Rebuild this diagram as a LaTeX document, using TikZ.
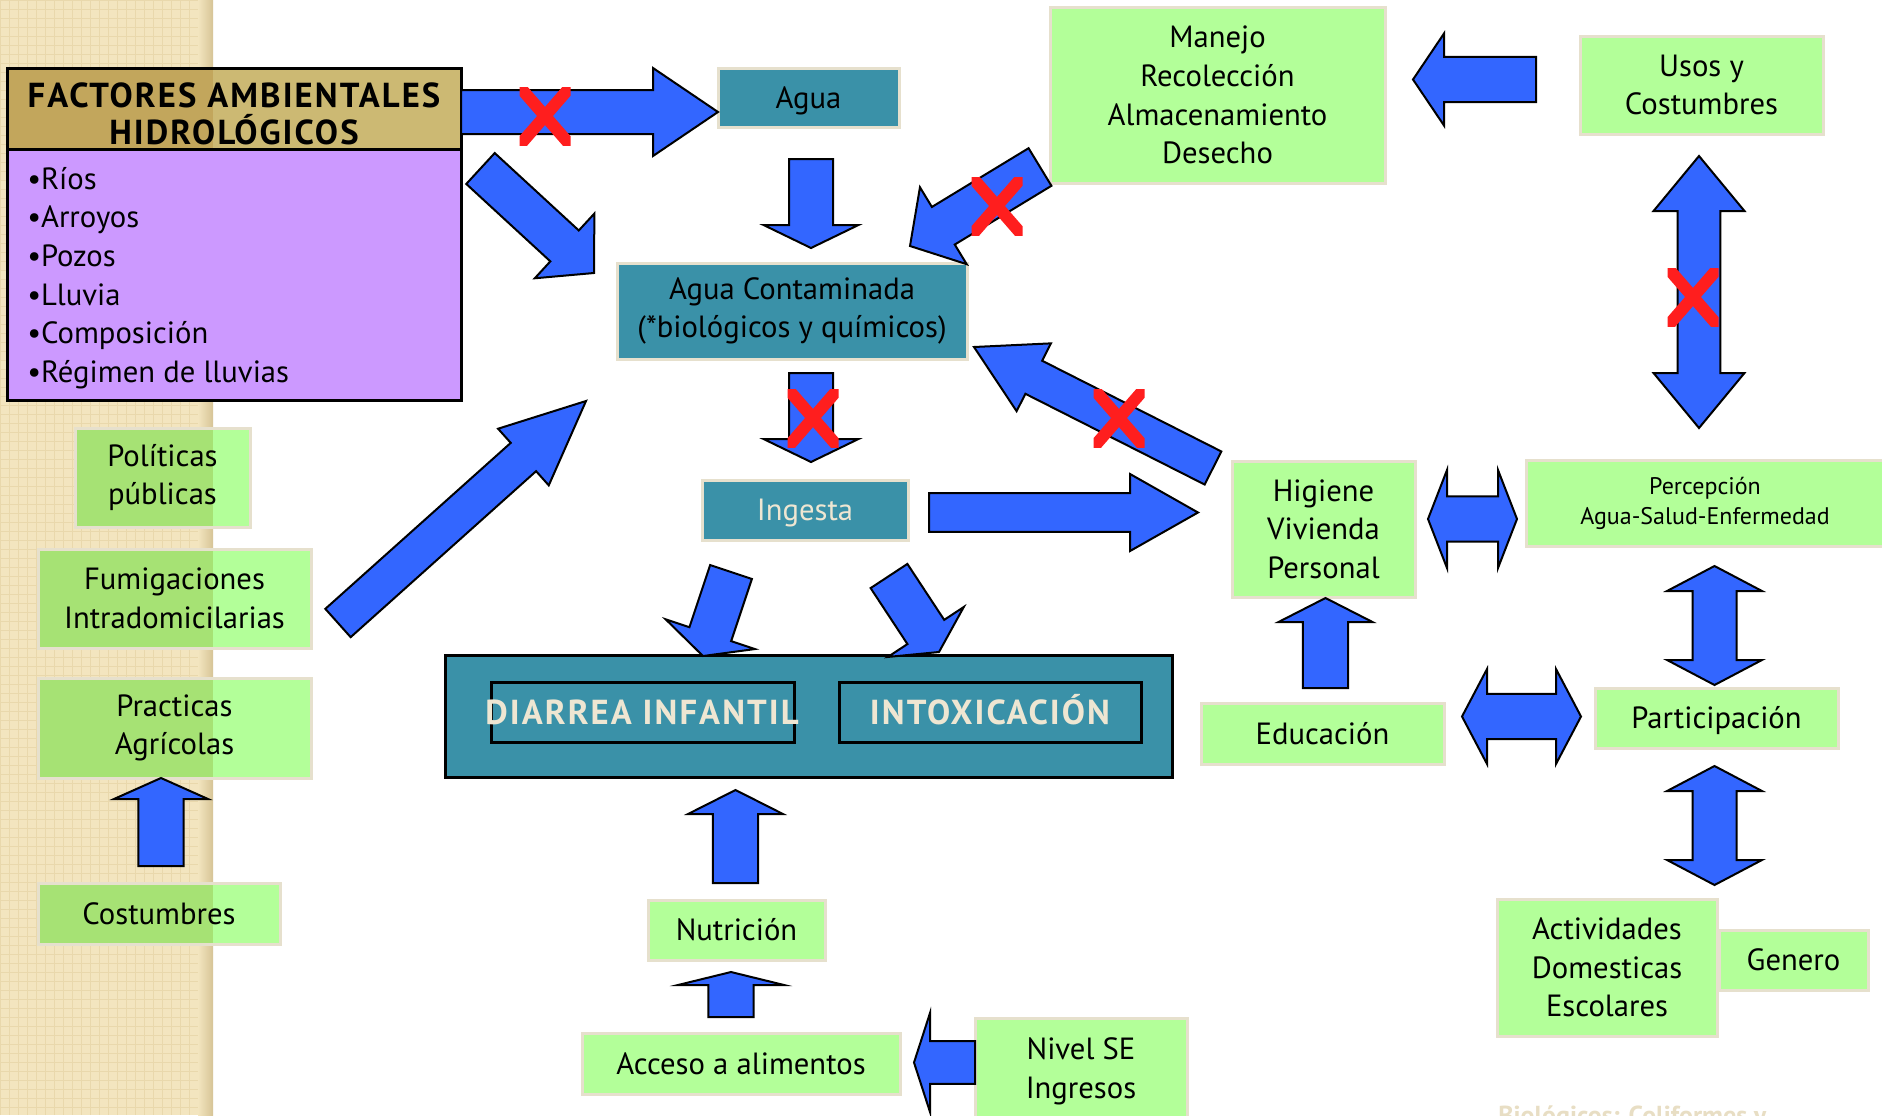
\documentclass[tikz,border=0pt]{standalone}
\usepackage{fontspec}
\setmainfont{PT Sans}
\usetikzlibrary{calc,fit}

\definecolor{arrowblue}{RGB}{51,102,255}
\definecolor{boxteal}{RGB}{58,145,168}
\definecolor{boxgreen}{RGB}{179,255,153}
\definecolor{stripgreen}{RGB}{166,226,116}
\definecolor{boxedge}{RGB}{230,224,205}
\definecolor{listpurple}{RGB}{204,153,255}
\definecolor{titlegold}{RGB}{204,185,115}
\definecolor{stripgold}{RGB}{194,166,92}
\definecolor{stripbg}{RGB}{243,229,191}
\definecolor{stripline}{RGB}{233,216,172}
\definecolor{stripshade}{RGB}{214,196,150}
\definecolor{paletext}{RGB}{238,230,210}
\definecolor{fadedbeige}{RGB}{232,222,196}
\definecolor{crossred}{RGB}{255,30,30}

\newcommand{\mainfs}{\fontsize{23}{29}\selectfont}
\newcommand{\smallfs}{\fontsize{18}{22.5}\selectfont}
\newcommand{\titlefs}{\fontsize{26}{28}\selectfont\addfontfeature{LetterSpace=6}}

\tikzset{
  stripfill/.style={path picture={\fill[#1] (path picture bounding box.north west) rectangle (stripedge |- path picture bounding box.south);}},
  greenbox/.style={fill=boxgreen, draw=boxedge, line width=2.25pt, inner sep=0pt, stripfill=stripgreen},
  tealbox/.style={fill=boxteal, draw=boxedge, line width=2.25pt, inner sep=0pt},
  titlebox/.style={fill=titlegold, draw=black, line width=2.25pt, inner sep=0pt, stripfill=stripgold},
  listbox/.style={fill=listpurple, draw=black, line width=2.25pt, inner sep=0pt},
  dxbox/.style={fill=boxteal, draw=black, line width=2.25pt, inner sep=0pt},
  innerbox/.style={draw=black, line width=2.25pt, inner sep=0pt},
  boxtext/.style={align=center, font=\mainfs, inner sep=0pt},
  listtext/.style={align=left, font=\mainfs, inner sep=0pt},
  titletext/.style={align=center, font=\bfseries\titlefs, inner sep=0pt},
  dxlabel/.style={text=paletext, font=\bfseries\titlefs, inner sep=0pt},
  fainttext/.style={text=fadedbeige, font=\bfseries\fontsize{19.5}{22}\selectfont, inner sep=0pt},
  blockarrow/.style={fill=arrowblue, draw=black, line width=1.5pt, line join=miter},
  crossmark/.style={draw=crossred, line width=9pt}
}

% block arrow: tail, tip, half shaft, half head, head length
\newcommand{\blkarrow}[5]{%
  \coordinate (ba-h) at ($#2!#5!#1$);
  \draw[blockarrow] ($#1!#3!90:#2$) -- ($(ba-h)!#3!-90:#1$) -- ($(ba-h)!#4!-90:#1$) -- #2
    -- ($(ba-h)!#4!90:#1$) -- ($(ba-h)!#3!90:#1$) -- ($#1!#3!-90:#2$) -- cycle;
}
% two headed block arrow: end, end, half shaft, half head, head length
\newcommand{\dblarrow}[5]{%
  \coordinate (da-p) at ($#1!#5!#2$);
  \coordinate (da-q) at ($#2!#5!#1$);
  \draw[blockarrow] #1 -- ($(da-p)!#4!90:#2$) -- ($(da-p)!#3!90:#2$) -- ($(da-q)!#3!-90:#1$)
    -- ($(da-q)!#4!-90:#1$) -- #2 -- ($(da-q)!#4!90:#1$) -- ($(da-q)!#3!90:#1$)
    -- ($(da-p)!#3!-90:#2$) -- ($(da-p)!#4!-90:#2$) -- cycle;
}
% red cross
\newcommand{\redx}[1]{%
  \begin{scope}[shift={#1}]
    \clip (-25.5,-29) rectangle (25.5,29);
    \draw[crossmark] (-40,-46) -- (40,46) (-40,46) -- (40,-46);
  \end{scope}
}

\begin{document}
\begin{tikzpicture}[x=0.75pt,y=0.75pt,yscale=-1,xscale=1]
\useasboundingbox (0,0) rectangle (1882,1115);
\fill[white] (0,0) rectangle (1882,1115);

% Side strip
\fill[stripbg] (0,0) rectangle (213,1115);
\draw[stripline, line width=0.6pt, step=9] (0,0) grid (213,1115);
\shade[left color=stripbg, right color=stripshade] (198,0) rectangle (213,1115);
\coordinate (stripedge) at (213,0);

% Boxes
\node[titlebox, fit={(7,68) (461,149)}] (hdr) {};
\node[listbox, fit={(7,149) (461,400)}] (lst) {};
\node[tealbox, fit={(718,68) (899,127)}] (agua) {};
\node[tealbox, fit={(617,263) (967,359)}] (cont) {};
\node[greenbox, fit={(1050,7) (1385,183)}] (manejo) {};
\node[greenbox, fit={(1580,36) (1823,134)}] (usos) {};
\node[greenbox, fit={(1526,460) (1886,546)}] (percep) {};
\node[greenbox, fit={(1232,461) (1415,597)}] (higiene) {};
\node[tealbox, fit={(702,480) (908,540)}] (ingesta) {};
\node[greenbox, fit={(75,428) (250,527)}] (polit) {};
\node[greenbox, fit={(38,549) (311,648)}] (fumig) {};
\node[greenbox, fit={(38,678) (311,778)}] (pract) {};
\node[greenbox, fit={(38,883) (280,944)}] (costum) {};
\node[dxbox, fit={(445,655) (1172,777)}] (dx) {};
\node[innerbox, fit={(491,682) (794,742)}] (diarrea) {};
\node[innerbox, fit={(839,682) (1141,742)}] (intox) {};
\node[greenbox, fit={(648,900) (825,960)}] (nutri) {};
\node[greenbox, fit={(582,1033) (900,1094)}] (acceso) {};
\node[greenbox, fit={(975,1018) (1187,1125)}] (nivel) {};
\node[greenbox, fit={(1201,703) (1444,764)}] (educ) {};
\node[greenbox, fit={(1595,688) (1838,748)}] (partic) {};
\node[greenbox, fit={(1497,899) (1717,1036)}] (activ) {};
\node[greenbox, fit={(1719,930) (1868,990)}] (genero) {};

% Text Nodes
\node[titletext] (t-hdr) at (234,114) {FACTORES AMBIENTALES\\HIDROLÓGICOS};
\node[listtext, anchor=west] (t-lst) at (27,278) {•Ríos\\•Arroyos\\•Pozos\\•Lluvia\\•Composición\\•Régimen de lluvias};
\node[boxtext] (t-agua) at ($(agua)+(0,3)$) {Agua};
\node[boxtext] (t-cont) at (cont) {Agua Contaminada\\(*biológicos y químicos)};
\node[boxtext] (t-manejo) at (manejo) {Manejo\\Recolección\\Almacenamiento\\Desecho};
\node[boxtext] (t-usos) at (usos) {Usos y\\Costumbres};
\node[boxtext, font=\smallfs] (t-percep) at (1705,503) {Percepción\\Agua-Salud-Enfermedad};
\node[boxtext] (t-higiene) at (higiene) {Higiene\\Vivienda\\Personal};
\node[boxtext, text=paletext] (t-ingesta) at ($(ingesta)+(0,3)$) {Ingesta};
\node[boxtext] (t-polit) at (polit) {Políticas\\públicas};
\node[boxtext] (t-fumig) at (fumig) {Fumigaciones\\Intradomicilarias};
\node[boxtext] (t-pract) at (pract) {Practicas\\Agrícolas};
\node[boxtext] (t-costum) at (costum) {Costumbres};
\node[dxlabel, anchor=base] (t-diarrea) at (642,724) {DIARREA INFANTIL};
\node[dxlabel, anchor=base] (t-intox) at (990,724) {INTOXICACIÓN};
\node[boxtext] (t-nutri) at (nutri) {Nutrición};
\node[boxtext] (t-acceso) at (acceso) {Acceso a alimentos};
\node[boxtext] (t-nivel) at (nivel) {Nivel SE\\Ingresos};
\node[boxtext] (t-educ) at (educ) {Educación};
\node[boxtext] (t-partic) at ($(partic)+(0,3)$) {Participación};
\node[boxtext] (t-activ) at (activ) {Actividades\\Domesticas\\Escolares};
\node[boxtext] (t-genero) at (genero) {Genero};
\node[fainttext, anchor=base west] (t-bio) at (1498,1124) {Biológicos: Coliformes y};

% Arrow ends
\coordinate (hdr-e) at (461,112);       \coordinate (agua-w) at (718,112);
\coordinate (lst-ne) at (480.5,168.5);  \coordinate (cont-nw) at (594,273);
\coordinate (agua-s) at (811,159);      \coordinate (cont-n) at (811,248);
\coordinate (manejo-sw) at (1040,167);  \coordinate (cont-ne) at (910,246);
\coordinate (usos-w) at (1536,79.5);    \coordinate (manejo-e) at (1413,79.5);
\coordinate (usos-s) at (1699,156);     \coordinate (percep-n) at (1699,428);
\coordinate (higiene-nw) at (1213,468); \coordinate (cont-e) at (974,347);
\coordinate (cont-s) at (811,373);      \coordinate (ingesta-n) at (811,462);
\coordinate (ingesta-e) at (929,512.5); \coordinate (higiene-w) at (1198,512.5);
\coordinate (fumig-e) at (338,623);     \coordinate (cont-sw) at (586,401);
\coordinate (ingesta-sw) at (731,572);  \coordinate (diarrea-n) at (703,656);
\coordinate (ingesta-se) at (889,576);  \coordinate (intox-n) at (939,652);
\coordinate (costum-n) at (161,866);    \coordinate (pract-s) at (161,778);
\coordinate (nutri-n) at (735.5,883);   \coordinate (dx-s) at (735.5,790);
\coordinate (acceso-n) at (731,1017);   \coordinate (nutri-s) at (731,972);
\coordinate (nivel-w) at (975,1062.5);  \coordinate (acceso-e) at (914,1062.5);
\coordinate (educ-n) at (1325.5,688);   \coordinate (higiene-s) at (1325.5,598);
\coordinate (higiene-e) at (1428,519);  \coordinate (percep-w) at (1517,519);
\coordinate (educ-e) at (1462,716.5);   \coordinate (partic-w) at (1581,716.5);
\coordinate (percep-s) at (1714.5,566); \coordinate (partic-n) at (1714.5,685);
\coordinate (partic-s) at (1714.5,766); \coordinate (activ-n) at (1714.5,885);

% Arrows
\blkarrow{(hdr-e)}{(agua-w)}{16.5pt}{33pt}{48.75pt}
\blkarrow{(lst-ne)}{(cont-nw)}{15.75pt}{33pt}{30pt}
\blkarrow{(agua-s)}{(cont-n)}{16.5pt}{35.6pt}{17.25pt}
\blkarrow{(manejo-sw)}{(cont-ne)}{16.5pt}{33.75pt}{29.25pt}
\blkarrow{(usos-w)}{(manejo-e)}{16.9pt}{34.5pt}{23.25pt}
\dblarrow{(usos-s)}{(percep-n)}{16.1pt}{34.1pt}{41.25pt}
\blkarrow{(higiene-nw)}{(cont-e)}{13.9pt}{28.5pt}{50.25pt}
\blkarrow{(cont-s)}{(ingesta-n)}{16.5pt}{35.6pt}{17.25pt}
\blkarrow{(ingesta-e)}{(higiene-w)}{14.6pt}{28.9pt}{51pt}
\blkarrow{(fumig-e)}{(cont-sw)}{14.25pt}{28.5pt}{63pt}
\blkarrow{(ingesta-sw)}{(diarrea-n)}{16.5pt}{35.25pt}{17.25pt}
\blkarrow{(ingesta-se)}{(intox-n)}{16.5pt}{34.1pt}{18pt}
\blkarrow{(costum-n)}{(pract-s)}{16.9pt}{35.25pt}{15.75pt}
\blkarrow{(nutri-n)}{(dx-s)}{16.9pt}{35.6pt}{18pt}
\blkarrow{(acceso-n)}{(nutri-s)}{16.9pt}{39.75pt}{9.75pt}
\blkarrow{(nivel-w)}{(acceso-e)}{16.1pt}{37.1pt}{12pt}
\blkarrow{(educ-n)}{(higiene-s)}{16.9pt}{35.25pt}{18pt}
\dblarrow{(higiene-e)}{(percep-w)}{16.9pt}{36.75pt}{14.25pt}
\dblarrow{(educ-e)}{(partic-w)}{16.9pt}{35.6pt}{18.75pt}
\dblarrow{(percep-s)}{(partic-n)}{16.5pt}{35.6pt}{18.75pt}
\dblarrow{(partic-s)}{(activ-n)}{16.5pt}{35.6pt}{18.75pt}

% Crosses
\redx{(545,116)}
\redx{(997,206)}
\redx{(813,418)}
\redx{(1119,418)}
\redx{(1693,297)}

\end{tikzpicture}
\end{document}
